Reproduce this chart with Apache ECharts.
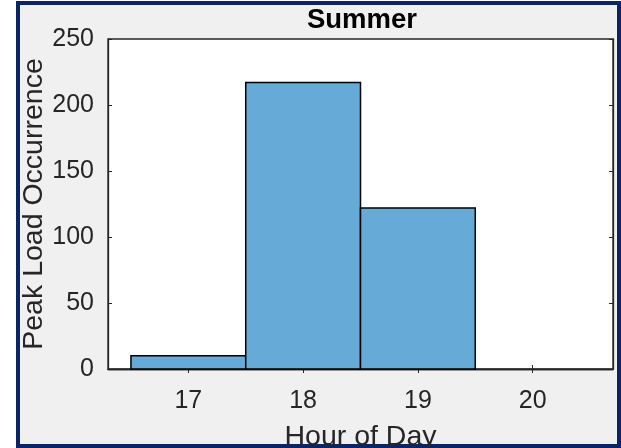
<!DOCTYPE html>
<html>
<head>
<meta charset="utf-8">
<script src="https://cdn.jsdelivr.net/npm/echarts@6/dist/echarts.min.js"></script>
<style>
  html, body { margin: 0; padding: 0; background: #ffffff; }
  #chart { width: 621px; height: 448px; }
</style>
</head>
<body>
<div id="chart"></div>
<script>
// Histogram of the hour at which the daily peak load occurs (summer)
const binCenters = [17, 18, 19, 20];
const counts = [10, 217, 122, 0];
const xTicks = [17, 18, 19, 20];
const yTicks = [0, 50, 100, 150, 200, 250];
const binWidth = 1;

const FONT = "'Liberation Sans', Arial, Helvetica, sans-serif";
const AXIS_COLOR = '#262626';

const chart = echarts.init(document.getElementById('chart'), null, { renderer: 'canvas' });

const barData = binCenters.map((c, i) => [c, counts[i]]);

const option = {
  backgroundColor: '#ffffff',
  animation: false,
  graphic: [{
    type: 'rect',
    z: -10,
    silent: true,
    shape: { x: 18, y: 3, width: 601, height: 443 },
    style: { fill: '#f0f0f0', stroke: '#0b2466', lineWidth: 4 }
  }],
  title: {
    text: 'Summer',
    left: 357,
    top: 1,
    textAlign: 'center',
    textStyle: { fontFamily: FONT, fontSize: 27.5, fontWeight: 'bold', color: '#000000' }
  },
  grid: {
    left: 108, top: 39, right: 8, bottom: 79,
    outerBoundsMode: 'none',
    containLabel: false,
    show: true,
    backgroundColor: '#ffffff',
    borderColor: AXIS_COLOR,
    borderWidth: 1.3
  },
  xAxis: [{
    type: 'value',
    min: 16.3, max: 20.7,
    position: 'bottom',
    name: 'Hour of Day',
    nameLocation: 'middle',
    nameGap: 54,
    nameMoveOverlap: false,
    nameTextStyle: { fontFamily: FONT, fontSize: 28.5, color: AXIS_COLOR },
    axisLine: { show: true, lineStyle: { color: AXIS_COLOR, width: 1.3 } },
    splitLine: { show: false },
    axisTick: { show: true, inside: true, length: 4, customValues: xTicks, lineStyle: { color: AXIS_COLOR } },
    axisLabel: { show: true, customValues: xTicks, margin: 20, fontFamily: FONT, fontSize: 25, color: AXIS_COLOR }
  }, {
    type: 'value',
    min: 16.3, max: 20.7,
    position: 'top',
    axisLine: { show: true, lineStyle: { color: AXIS_COLOR, width: 1.3 } },
    splitLine: { show: false },
    axisTick: { show: true, inside: true, length: 4, customValues: xTicks, lineStyle: { color: AXIS_COLOR } },
    axisLabel: { show: false }
  }],
  yAxis: [{
    type: 'value',
    min: 0, max: 250, interval: 50,
    position: 'left',
    name: 'Peak Load Occurrence',
    nameLocation: 'middle',
    nameGap: 59,
    nameMoveOverlap: false,
    nameTextStyle: { fontFamily: FONT, fontSize: 28.5, color: AXIS_COLOR },
    axisLine: { show: true, lineStyle: { color: AXIS_COLOR, width: 1.3 } },
    splitLine: { show: false },
    axisTick: { show: true, inside: true, length: 4, lineStyle: { color: AXIS_COLOR } },
    axisLabel: { show: true, margin: 14, fontFamily: FONT, fontSize: 25, color: AXIS_COLOR,
      formatter: v => (yTicks.indexOf(v) >= 0 ? String(v) : '') }
  }, {
    type: 'value',
    min: 0, max: 250, interval: 50,
    position: 'right',
    axisLine: { show: true, lineStyle: { color: AXIS_COLOR, width: 1.3 } },
    splitLine: { show: false },
    axisTick: { show: true, inside: true, length: 4, lineStyle: { color: AXIS_COLOR } },
    axisLabel: { show: false }
  }],
  series: [{
    type: 'custom',
    xAxisIndex: 0,
    yAxisIndex: 0,
    data: barData,
    renderItem: function (params, api) {
      const center = api.value(0);
      const count = api.value(1);
      if (count <= 0) return null;
      const p0 = api.coord([center - binWidth / 2, count]);
      const p1 = api.coord([center + binWidth / 2, 0]);
      return {
        type: 'rect',
        shape: { x: p0[0], y: p0[1], width: p1[0] - p0[0], height: p1[1] - p0[1] },
        style: { fill: '#66aad7', stroke: '#000000', lineWidth: 1.5 }
      };
    }
  }]
};

chart.setOption(option);
</script>
</body>
</html>
